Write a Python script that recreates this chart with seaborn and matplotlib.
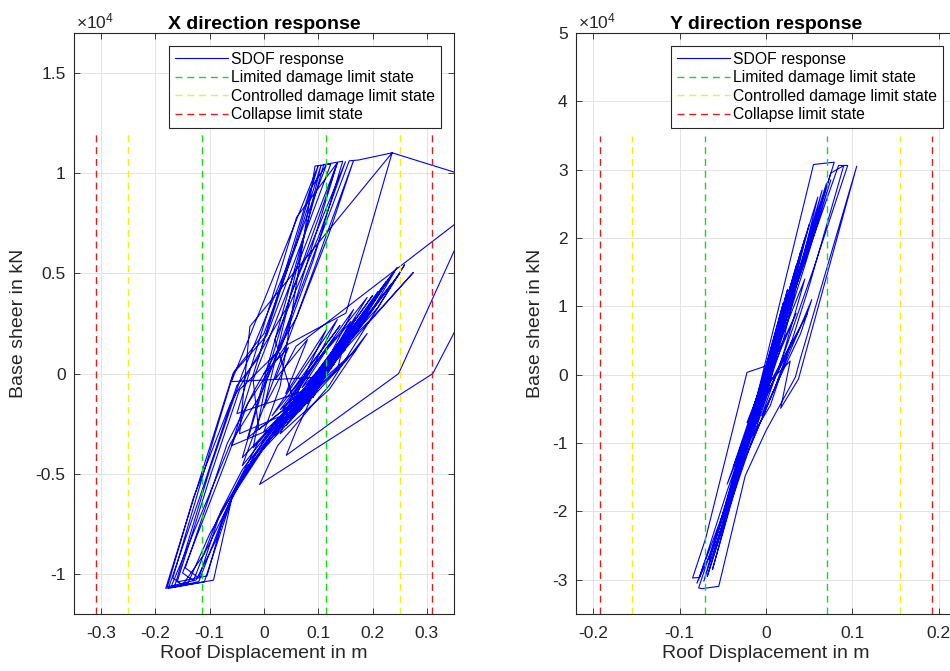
"""
SDOF hysteresis response in X and Y direction with limit-state displacements.
Two MATLAB-style panels, the right one cropped at the figure edge.
"""

import matplotlib
matplotlib.use("Agg")
import matplotlib.pyplot as plt
import seaborn as sns
from matplotlib.ticker import FuncFormatter, MultipleLocator

OUT_PATH = "out.png"

# ---- X direction: roof displacement (m) / base shear (kN), path segments ----
left_early_x = [0.000, 0.045, 0.020, 0.080, 0.040, 0.115, 0.075, 0.015, 0.135, 0.095,
                0.035, 0.165, 0.125, 0.055, 0.000]
left_early_y = [0, 1300, -300, 1700, -1000, 2200, -100, -2100, 2700, 600,
                -1800, 3200, 1100, -1500, -2900]

left_cycle1_x = [0.030, 0.094, 0.123, 0.070, 0.005, -0.057, -0.120, -0.181, -0.093, -0.057,
                 0.000, 0.090, 0.200, 0.150, 0.070, 0.020, 0.110, 0.230, 0.180, 0.090, -0.020]
left_cycle1_y = [-600, 10360, 10460, 6600, 1900, 0, -5400, -10720, -10310, -5940,
                 -3300, -300, 3900, 2000, -900, -2500, 300, 4700, 2700, -500, -3700]

left_cycle2_x = [0.005, 0.157, 0.174, 0.236, 0.151, 0.040, -0.030, -0.075, -0.150, -0.130,
                 -0.085, -0.055, -0.010, 0.060, 0.150, 0.245, 0.200, 0.110, 0.060, 0.041,
                 0.248, 0.400, 0.410, 0.311, -0.008, 0.025, 0.120, 0.259, 0.210, 0.120,
                 0.050, -0.045]
left_cycle2_y = [-300, 10620, 10660, 11020, 3020, 1400, -1500, -4700, -9950, -10340,
                 -7200, -5800, -3400, -1200, 1800, 5300, 3200, 100, -2800, -4080,
                 0, 9100, 5150, 0, -5530, -3600, -600, 5430, 3300, 600,
                 -1900, -3000]

left_cycle3_x = [-0.026, 0.236, 0.440, 0.059, 0.000, 0.105, 0.060, -0.040, -0.100, -0.165,
                 -0.120, -0.070, -0.040, 0.030, 0.140, 0.220, 0.170, 0.080, 0.030, 0.100,
                 0.190, 0.140, 0.060, -0.010, -0.020, 0.135, 0.040, -0.005, -0.062, -0.172,
                 -0.110, -0.060, -0.020, 0.060, 0.275, 0.200, 0.090]
left_cycle3_y = [2355, 11020, 9300, 1360, -1700, 10400, 6500, 0, -4800, -10650,
                 -10380, -6800, -5200, -2600, 900, 4300, 2300, -900, -2200, 700,
                 3800, 1600, -1300, -2800, -300, 10520, 2000, -1000, -3500, -10700,
                 -10400, -6300, -4200, -1500, 5045, 2800, -200]

left_cycle4_x = [-0.060, 0.100, 0.050, -0.010, -0.050, -0.115, -0.176, -0.140, -0.100, -0.062,
                 0.010, 0.120, 0.210, 0.160, 0.070, -0.030, 0.110, 0.145, 0.090, 0.030,
                 -0.045, -0.100, -0.160, -0.105, -0.075, -0.050, 0.020, 0.130, 0.235, 0.190,
                 0.095, 0.010, -0.040, 0.165, 0.120, 0.060, -0.015, -0.068, -0.145, -0.120,
                 -0.080, -0.040, 0.040, 0.150, 0.250, 0.195, 0.100, 0.045]
left_cycle4_y = [-400, 10390, 5800, 800, -600, -5900, -10710, -10460, -8000, -6200,
                 -3200, 400, 4100, 2200, -1100, -3200, 10430, 10600, 5600, 1200,
                 -800, -5200, -10400, -10100, -7200, -5600, -2800, 800, 4500, 2800,
                 -700, -2900, -4600, 10640, 7000, 2800, -700, -3500, -9700, -10200,
                 -6900, -4800, -2000, 1500, 5000, 3000, -300, -2400]

left_cycle5_x = [-0.060, 0.085, 0.115, 0.070, 0.000, -0.055, -0.090, -0.168, -0.150, -0.110,
                 -0.055, 0.005, 0.100, 0.225, 0.170, 0.080, -0.050, 0.060, 0.135, 0.110,
                 0.040, -0.020, -0.062, -0.130, -0.178, -0.125, -0.090, -0.058, -0.030, 0.050,
                 0.160, 0.240, 0.185, 0.085, 0.015, -0.040, 0.050, 0.150, 0.100, 0.020]
left_cycle5_y = [-3600, 9200, 10420, 7200, 2000, 100, -3000, -10200, -10550, -9000,
                 -6000, -3500, -500, 4600, 2500, -800, -2000, 7800, 10520, 8500,
                 3200, 500, -1500, -6200, -10650, -10300, -8400, -6100, -4600, -2300,
                 1900, 5100, 3100, -400, -2600, -4200, 4000, 10580, 6800, 1700]

left_core_x = [0.060, 0.160, 0.120, 0.050, 0.100, 0.180, 0.130, 0.070, 0.110, 0.170,
               0.140, 0.060, 0.090, 0.155, 0.120, 0.065, 0.100, 0.160, 0.130, 0.075,
               0.095, 0.145, 0.110, 0.080, 0.125, 0.150, 0.105, 0.070, 0.120, 0.140,
               0.030, 0.200, 0.150, 0.040, 0.190, 0.110, 0.020, 0.170, 0.130]
left_core_y = [-1800, 1900, 700, -2200, -700, 2600, 1000, -1500, 200, 2100,
               1300, -1900, -800, 1800, 600, -1600, -300, 1700, 900, -1200,
               -400, 1400, 300, -1000, 500, 1200, 0, -1300, 400, 1000,
               -2600, 3500, 1500, -2400, 3000, -100, -3100, 2800, 800]

left_spread_x = [0.060, 0.170, 0.110, 0.040, 0.150, 0.190, 0.120, 0.030, 0.080, 0.140,
                 0.090, 0.050, 0.160, 0.100, 0.030, 0.130, 0.070, 0.180, 0.150, 0.085,
                 0.135]
left_spread_y = [-1500, 1200, -400, -2600, 600, 2000, -800, -3000, 200, 2400,
                 600, -900, 2600, -200, -1800, 1800, -700, 2400, 1300, -1100,
                 200]

left_final_x = [0.150, 0.090, 0.140, 0.080, 0.135, 0.085, 0.150, 0.095, 0.125, 0.075,
                0.140, 0.100, 0.130, 0.090, 0.145, 0.105, 0.120, 0.100, 0.115]
left_final_y = [1800, -1200, 1300, -1500, 900, -1000, 1500, -600, 700, -1300,
                1100, -300, 500, -900, 1200, -200, 300, -400, 100]

left_tail_x = [0.070, 0.155, 0.100, 0.060, 0.140, 0.115, 0.075, 0.160, 0.125, 0.085,
               0.145, 0.105, 0.065, 0.130, 0.095, 0.150, 0.110, 0.080, 0.135, 0.100,
               0.120]
left_tail_y = [-1400, 1500, -200, -1700, 900, 0, -1200, 1800, 500, -900,
               1200, -300, -1900, 700, -600, 1400, 100, -1000, 1000, -100,
               600]

# ---- Y direction ----
right_early_x = [0.000, 0.010, -0.005, 0.015, -0.010, 0.020, 0.000, -0.015, 0.025, 0.005,
                 -0.020, 0.030, 0.010, -0.025, 0.000, 0.035, 0.012, -0.030]
right_early_y = [0, 4000, -2000, 6000, -4000, 8000, 1000, -6000, 10000, 2000,
                 -8000, 12000, 3500, -10000, -2500, 14000, 4000, -12000]

right_cycle1_x = [-0.010, 0.055, 0.079, 0.045, 0.005, -0.022, -0.070, -0.085, -0.077, -0.045,
                  -0.010, 0.025, 0.005, -0.030, -0.005, 0.030, 0.008, -0.035]
right_cycle1_y = [-3000, 30760, 31100, 17000, 1500, 350, -24000, -29730, -29650, -17000,
                  -4500, 9500, 2500, -11000, -1500, 12500, 3000, -14000]

right_cycle2_x = [-0.012, 0.084, 0.0946, 0.055, 0.015, -0.020, -0.078, -0.074, -0.0547, -0.024,
                  0.000, 0.034, 0.0396, 0.105, 0.0376, 0.017, 0.028]
right_cycle2_y = [-4000, 30620, 30620, 15500, 1000, -9000, -31190, -31290, -30950, -14750,
                  -8180, -340, 2290, 30500, -630, -4900, 2000]

right_cycle3_x = [0.000, 0.070, 0.030, -0.005, -0.060, -0.030, 0.010, 0.065, 0.040, 0.000,
                  -0.050, -0.068, -0.040, 0.000, 0.045, 0.020, -0.010, -0.035, 0.005, 0.075,
                  0.090, 0.050, 0.030, -0.015, -0.062, -0.035, 0.005, 0.035, 0.015, -0.020,
                  0.025, -0.005, -0.030, 0.020, -0.010, -0.025, 0.018, 0.000]
right_cycle3_y = [-1500, 28000, 12000, -2000, -26000, -13000, 3000, 27000, 15000, -500,
                  -22000, -29500, -18500, -3500, 20000, 9500, -5000, -15500, 1000, 29500,
                  30600, 13000, 5000, -7500, -28500, -16000, 500, 16000, 7000, -8000,
                  12500, -1500, -12500, 10500, -3500, -11000, 8500, 0]

right_core_x = [0.015, -0.012, 0.022, -0.018, 0.028, -0.008, 0.012, -0.022, 0.032, 0.000,
                0.010, -0.015, 0.026, -0.020, 0.018, -0.004, 0.034, -0.026, 0.008, -0.010,
                0.024, -0.016, 0.014, 0.002]
right_core_y = [6500, -5000, 9500, -7500, 11500, -3000, 5500, -9500, 13500, -1000,
                4500, -6000, 10800, -8500, 7500, -2000, 14500, -11500, 3500, -4200,
                9000, -7000, 6000, 500]

right_spread_x = [0.045, 0.020, -0.005, 0.040, 0.053, 0.000, -0.030, 0.010, 0.030, 0.005,
                  -0.038, -0.010, 0.035, 0.008, -0.020, 0.020, 0.048, -0.003, -0.045, -0.012,
                  0.015, -0.022, 0.003]
right_spread_y = [14000, 3000, -6000, 6000, 11000, -5000, -14000, -2000, 5000, -4500,
                  -13500, -3000, 9000, 1000, -8000, 2000, 9000, -3000, -16000, -4500,
                  4000, -7000, 1000]

right_final_x = [-0.010, 0.020, -0.015, 0.018, -0.008, 0.022, -0.012, 0.015, -0.005, 0.040,
                 0.010, -0.040, -0.015, 0.050, 0.015, -0.045, -0.020, 0.060, 0.020, -0.072,
                 -0.025, 0.010, -0.005, 0.008, 0.000]
right_final_y = [-7000, 7000, -8500, 6000, -5000, 9000, -6500, 5000, -3500, 18000,
                 2000, -16000, -5500, 22000, 4500, -20000, -7000, 26000, 5000, -30200,
                 -9000, 4000, -1000, 2000, 0]

right_core2_x = [0.025, 0.005, -0.018, 0.000, 0.030, 0.012, -0.025, -0.006, 0.020, 0.002,
                 -0.030, -0.012, 0.035, 0.016, -0.014, 0.010, -0.035, -0.010, 0.028, 0.008,
                 -0.020, 0.004]
right_core2_y = [9000, 1000, -8000, -1500, 11000, 3500, -11000, -3500, 7000, 0,
                 -12500, -5000, 13000, 5000, -6500, 3000, -15000, -4000, 10000, 2000,
                 -9000, 500]

right_bands_x = [-0.050, -0.030, -0.066, -0.040, -0.080, -0.060, -0.025, 0.002, 0.060, 0.035,
                 0.075, 0.045, 0.010, -0.002]
right_bands_y = [-21000, -12000, -27000, -17000, -30500, -25000, -10000, 0, 24000, 13000,
                 28500, 16000, 2000, -1000]

# ---- limit states ----
LIMIT_NAMES = ["Limited damage limit state", "Controlled damage limit state",
               "Collapse limit state"]
LIMIT_COLORS = ["#10e010", "#f4f400", "#e01c1c"]
left_limits = [0.115, 0.25, 0.31]
right_limits = [0.0705, 0.155, 0.192]
left_limit_height = 12000
right_limit_height = 35000

INK = "#262626"


def draw_panel(ax, xs, ys, limits, h, title, xlim, ylim, ystep):
    sns.lineplot(x=xs, y=ys, sort=False, estimator=None, color="#0000ff", lw=0.8,
                 ax=ax, label="SDOF response")
    for name, color, v in zip(LIMIT_NAMES, LIMIT_COLORS, limits):
        for i, s in enumerate((-1, 1)):
            sns.lineplot(x=[s * v, s * v], y=[-h, h], sort=False, estimator=None,
                         color=color, lw=1.0, linestyle=(0, (5, 3.5)), ax=ax,
                         label=name if i == 0 else "_nolegend_")

    ax.set_xlim(*xlim)
    ax.set_ylim(*ylim)
    ax.xaxis.set_major_locator(MultipleLocator(0.1))
    ax.yaxis.set_major_locator(MultipleLocator(ystep))
    ax.xaxis.set_major_formatter(FuncFormatter(lambda v, p: f"{round(v, 6) + 0.0:g}"))
    ax.yaxis.set_major_formatter(FuncFormatter(lambda v, p: f"{round(v / 1e4, 6) + 0.0:g}"))
    ax.grid(True, color="#dedede", lw=0.6)
    ax.set_axisbelow(True)
    for sp in ax.spines.values():
        sp.set_color(INK)
        sp.set_linewidth(0.8)
    ax.tick_params(direction="in", length=4, width=0.6, color=INK, labelcolor=INK,
                   top=True, right=True, labelsize=12.5)
    ax.tick_params(axis="x", pad=8.5)
    ax.tick_params(axis="y", pad=6)

    ax.set_title(title, fontsize=14, fontweight="bold", pad=3)
    ax.set_xlabel("Roof Displacement in m", fontsize=14, color=INK, labelpad=3)
    ax.set_ylabel("Base sheer in kN", fontsize=14, color=INK, labelpad=6)
    ax.text(0.005, 1.008, r"$\times10^{4}$", transform=ax.transAxes, ha="left",
            va="baseline", fontsize=12.5, color=INK)

    leg = ax.legend(loc="upper right", fontsize=11.3, frameon=True, fancybox=False,
                    framealpha=1, edgecolor=INK, borderaxespad=0.85, borderpad=0.35,
                    handlelength=3.4, handletextpad=0.2, labelspacing=0.22)
    leg.get_frame().set_linewidth(0.8)


def main() -> None:
    plt.rcParams["font.family"] = ["Liberation Sans", "DejaVu Sans"]
    plt.rcParams["mathtext.fontset"] = "custom"
    plt.rcParams["mathtext.rm"] = "Liberation Sans"
    plt.rcParams["mathtext.default"] = "regular"
    plt.rcParams["axes.unicode_minus"] = False

    left_x = (left_early_x + left_cycle1_x + left_cycle2_x + left_cycle3_x + left_cycle4_x
              + left_cycle5_x + left_core_x + left_spread_x + left_final_x + left_tail_x)
    left_y = (left_early_y + left_cycle1_y + left_cycle2_y + left_cycle3_y + left_cycle4_y
              + left_cycle5_y + left_core_y + left_spread_y + left_final_y + left_tail_y)
    right_x = (right_early_x + right_cycle1_x + right_cycle2_x + right_cycle3_x
               + right_core_x + right_spread_x + right_final_x + right_core2_x + right_bands_x)
    right_y = (right_early_y + right_cycle1_y + right_cycle2_y + right_cycle3_y
               + right_core_y + right_spread_y + right_final_y + right_core2_y + right_bands_y)

    fig = plt.figure(figsize=(9.5, 6.71), dpi=100)
    ax1 = fig.add_axes([74 / 950, 57 / 671, 380 / 950, 581 / 671])
    ax2 = fig.add_axes([576 / 950, 57 / 671, 380 / 950, 581 / 671])

    draw_panel(ax1, left_x, left_y, left_limits, left_limit_height,
               "X direction response", (-0.35, 0.35), (-12000, 17000), 5000)
    draw_panel(ax2, right_x, right_y, right_limits, right_limit_height,
               "Y direction response", (-0.22, 0.22), (-35000, 50000), 10000)

    fig.savefig(OUT_PATH, dpi=100)
    plt.close(fig)


if __name__ == "__main__":
    main()
